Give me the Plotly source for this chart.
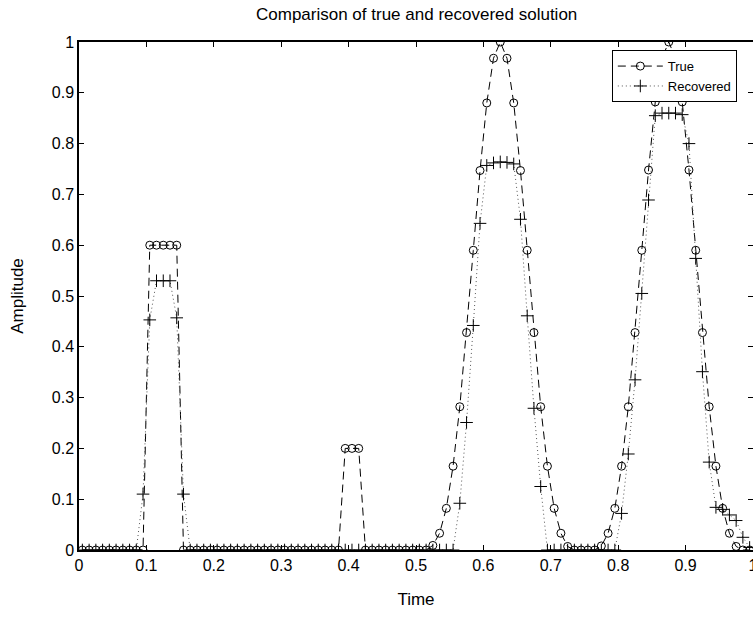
import plotly.graph_objects as go

# sample times (cell centres)
time = [
    0.005, 0.015, 0.025, 0.035, 0.045, 0.055, 0.065, 0.075, 0.085, 0.095,
    0.105, 0.115, 0.125, 0.135, 0.145, 0.155, 0.165, 0.175, 0.185, 0.195,
    0.205, 0.215, 0.225, 0.235, 0.245, 0.255, 0.265, 0.275, 0.285, 0.295,
    0.305, 0.315, 0.325, 0.335, 0.345, 0.355, 0.365, 0.375, 0.385, 0.395,
    0.405, 0.415, 0.425, 0.435, 0.445, 0.455, 0.465, 0.475, 0.485, 0.495,
    0.505, 0.515, 0.525, 0.535, 0.545, 0.555, 0.565, 0.575, 0.585, 0.595,
    0.605, 0.615, 0.625, 0.635, 0.645, 0.655, 0.665, 0.675, 0.685, 0.695,
    0.705, 0.715, 0.725, 0.735, 0.745, 0.755, 0.765, 0.775, 0.785, 0.795,
    0.805, 0.815, 0.825, 0.835, 0.845, 0.855, 0.865, 0.875, 0.885, 0.895,
    0.905, 0.915, 0.925, 0.935, 0.945, 0.955, 0.965, 0.975, 0.985, 0.995,
]

true_amp = [
    0, 0, 0, 0, 0, 0, 0, 0, 0, 0,
    0.6, 0.6, 0.6, 0.6, 0.6, 0, 0, 0, 0, 0,
    0, 0, 0, 0, 0, 0, 0, 0, 0, 0,
    0, 0, 0, 0, 0, 0, 0, 0, 0, 0.2,
    0.2, 0.2, 0, 0, 0, 0, 0, 0, 0, 0,
    0, 0, 0.009, 0.033, 0.082, 0.165, 0.282, 0.428, 0.59, 0.747,
    0.88, 0.968, 1.0, 0.968, 0.88, 0.747, 0.59, 0.428, 0.282, 0.165,
    0.082, 0.033, 0.007, 0, 0, 0, 0, 0.008, 0.033, 0.082,
    0.165, 0.282, 0.428, 0.59, 0.748, 0.882, 0.968, 1.0, 0.968, 0.882,
    0.748, 0.59, 0.428, 0.282, 0.165, 0.082, 0.033, 0.007, 0, 0,
]

recovered_amp = [
    0, 0, 0, 0, 0, 0, 0, 0, 0, 0.11,
    0.453, 0.53, 0.53, 0.53, 0.457, 0.11, 0, 0, 0, 0,
    0, 0, 0, 0, 0, 0, 0, 0, 0, 0,
    0, 0, 0, 0, 0, 0, 0, 0, 0, 0,
    0, 0, 0, 0, 0, 0, 0, 0, 0, 0,
    0, 0, 0, 0, 0, 0, 0.092, 0.251, 0.442, 0.643,
    0.757, 0.762, 0.764, 0.763, 0.76, 0.651, 0.461, 0.279, 0.125, 0,
    0, 0, 0, 0, 0, 0, 0, 0, 0, 0,
    0.072, 0.189, 0.335, 0.505, 0.689, 0.855, 0.86, 0.86, 0.86, 0.857,
    0.80, 0.574, 0.351, 0.173, 0.084, 0.08, 0.069, 0.058, 0.025, 0.005,
]

x_ticks = [0, 0.1, 0.2, 0.3, 0.4, 0.5, 0.6, 0.7, 0.8, 0.9, 1]
y_ticks = [0, 0.1, 0.2, 0.3, 0.4, 0.5, 0.6, 0.7, 0.8, 0.9, 1]

FONT = "Liberation Sans, Arial, Helvetica, sans-serif"

fig = go.Figure()
fig.add_scatter(
    x=time, y=true_amp, mode="lines+markers", name="True",
    line=dict(color="black", width=1, dash="8px,5px"),
    marker=dict(symbol="circle-open", size=8, color="black", line=dict(width=1, color="black")),
)
fig.add_scatter(
    x=time, y=recovered_amp, mode="lines+markers", name="Recovered",
    line=dict(color="#555555", width=1, dash="1px,3px"),
    marker=dict(symbol="cross-thin-open", size=9, color="black", line=dict(width=1, color="black")),
)

axis_style = dict(
    showgrid=False, zeroline=False, showline=True, linecolor="black", linewidth=1.5,
    mirror="ticks", ticks="inside", ticklen=5, tickcolor="black", tickwidth=1,
    tickfont=dict(family=FONT, size=16, color="black"), ticklabeloverflow="allow",
)
fig.update_xaxes(range=[0, 1], tickvals=x_ticks, ticktext=[str(v) for v in x_ticks],
                 title=dict(text="Time", font=dict(family=FONT, size=17, color="black"), standoff=20),
                 **axis_style)
fig.update_yaxes(range=[0, 1], tickvals=y_ticks, ticktext=[str(v) for v in y_ticks],
                 title=dict(text="Amplitude", font=dict(family=FONT, size=17, color="black"), standoff=24),
                 **axis_style)

fig.update_layout(
    width=753, height=617,
    paper_bgcolor="white", plot_bgcolor="white",
    margin=dict(l=79, r=0, t=42, b=67, autoexpand=False),
    showlegend=True,
    legend=dict(x=0.976, xanchor="right", y=0.984, yanchor="top",
                bgcolor="white", bordercolor="black", borderwidth=1,
                font=dict(family=FONT, size=13, color="black"),
                tracegroupgap=0, itemwidth=45),
)
fig.add_annotation(
    text="Comparison of true and recovered solution", xref="paper", yref="paper",
    x=0.5, y=1.0551, xanchor="center", yanchor="middle", showarrow=False,
    font=dict(family=FONT, size=17, color="black"),
)

# drop the default page margin so the figure fills the window
fig.write_html(
    "out.html",
    config={"displayModeBar": False},
    post_script="document.body.style.margin='0';document.body.style.overflow='hidden';",
)
